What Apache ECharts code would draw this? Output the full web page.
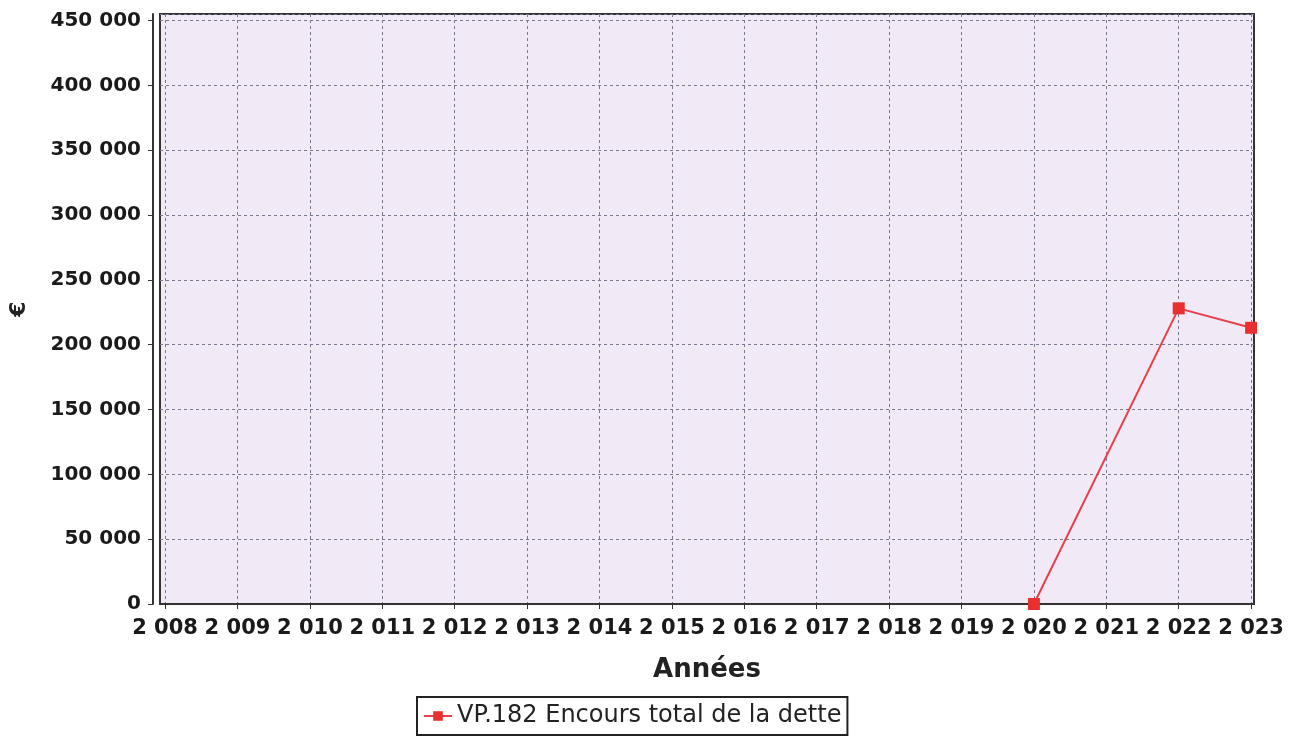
<!DOCTYPE html>
<html><head><meta charset="utf-8">
<script src="https://cdn.jsdelivr.net/npm/echarts@6/dist/echarts.min.js"></script>
<style>html,body{margin:0;padding:0;background:#fff}#c{width:1293px;height:739px}</style>
</head><body><div id="c"></div>
<script>
const tickYears = [2008,2009,2010,2011,2012,2013,2014,2015,2016,2017,2018,2019,2020,2021,2022,2023];
const years = [2020, 2022, 2023];
const debt = [0, 228000, 213000];
const seriesName = 'VP.182 Encours total de la dette';
const xTitle = 'Années';
const yTitle = '€';

const fmt = v => String(v).replace(/\B(?=(\d{3})+(?!\d))/g, ' ');
const chart = echarts.init(document.getElementById('c'));
chart.setOption({
  animation: false,
  textStyle: {fontFamily: 'DejaVu Sans'},
  grid: {left: 160, right: 39, top: 14, bottom: 135, show: true, outerBoundsMode: 'none',
         backgroundColor: '#f1e9f6', borderColor: '#333', borderWidth: 2},
  xAxis: {
    type: 'value', min: 2007.93, max: 2023.04,
    offset: 5,
    name: xTitle, nameLocation: 'middle', nameGap: 48,
    nameTextStyle: {fontSize: 26, fontWeight: 'bold', color: '#222', fontFamily: 'DejaVu Sans'},
    axisLine: {show: true, lineStyle: {color: '#333', width: 2}},
    axisTick: {show: true, length: 5, customValues: tickYears, lineStyle: {color: '#333'}},
    axisLabel: {customValues: tickYears, formatter: v => fmt(v), fontSize: 21, fontWeight: 'bold', color: '#1a1a1a', margin: 9},
    splitLine: {show: true, lineStyle: {color: '#7a788c', type: [3, 3], width: 1}}
  },
  yAxis: {
    type: 'value', min: 0, max: 455000, interval: 50000,
    offset: 7,
    name: yTitle, nameLocation: 'middle', nameGap: 123, nameRotate: 90,
    nameTextStyle: {fontSize: 22, fontWeight: 'bold', color: '#222'},
    axisLine: {show: true, lineStyle: {color: '#333', width: 2}},
    axisTick: {show: true, length: 5, lineStyle: {color: '#333'}},
    axisLabel: {formatter: v => fmt(v), fontSize: 20, fontWeight: 'bold', color: '#1a1a1a', margin: 12, showMaxLabel: false},
    splitLine: {show: true, lineStyle: {color: '#7a788c', type: [3, 3], width: 1}}
  },
  legend: {
    left: 417, top: 697, orient: 'horizontal',
    borderColor: '#222', borderWidth: 2, padding: [7, 6, 7, 6],
    itemWidth: 28, itemHeight: 12, itemGap: 6,
    textStyle: {fontSize: 24, color: '#222'},
    data: [seriesName]
  },
  series: [{
    name: seriesName, type: 'line',
    data: years.map((y, i) => [y, debt[i]]),
    symbol: 'rect', symbolSize: 12,
    itemStyle: {color: '#e8302f'},
    lineStyle: {color: '#e8404a', width: 2}
  }]
});
</script></body></html>
